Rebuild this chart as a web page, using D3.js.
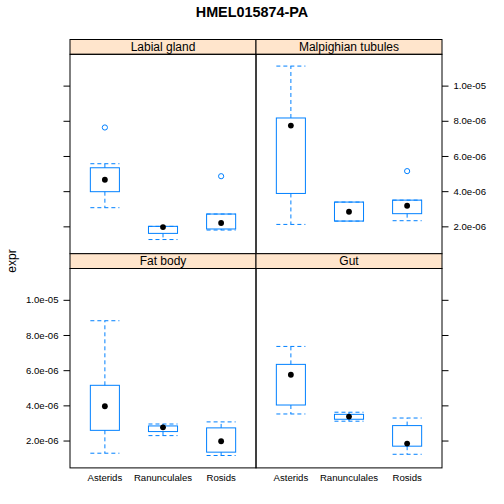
<!DOCTYPE html>
<html>
<head>
<meta charset="utf-8">
<script src="https://cdn.jsdelivr.net/npm/d3@7"></script>
<style>
html,body{margin:0;padding:0;background:#fff;}
svg{display:block;font-family:"Liberation Sans",Arial,sans-serif;}
</style>
</head>
<body>
<svg id="chart" width="504" height="504"></svg>
<script>
const title = "HMEL015874-PA";
const yLabel = "expr";
const categories = ["Asterids", "Ranunculales", "Rosids"];
const panelNames = ["Labial gland", "Malpighian tubules", "Fat body", "Gut"];
// per panel, per category: [lower whisker, Q1, median, Q3, upper whisker]
const labialStats = [[3.06e-6, 3.97e-6, 4.65e-6, 5.33e-6, 5.56e-6],
                     [1.25e-6, 1.60e-6, 1.96e-6, 2.00e-6, 2.00e-6],
                     [1.79e-6, 1.85e-6, 2.19e-6, 2.70e-6, 2.70e-6]];
const malpighianStats = [[2.11e-6, 3.87e-6, 7.73e-6, 8.16e-6, 11.11e-6],
                         [2.30e-6, 2.30e-6, 2.83e-6, 3.38e-6, 3.38e-6],
                         [2.32e-6, 2.72e-6, 3.17e-6, 3.49e-6, 3.49e-6]];
const fatBodyStats = [[1.28e-6, 2.58e-6, 3.95e-6, 5.14e-6, 8.81e-6],
                      [2.28e-6, 2.51e-6, 2.75e-6, 2.83e-6, 2.94e-6],
                      [1.15e-6, 1.34e-6, 1.96e-6, 2.72e-6, 3.06e-6]];
const gutStats = [[3.51e-6, 4.02e-6, 5.74e-6, 6.33e-6, 7.35e-6],
                  [3.10e-6, 3.21e-6, 3.36e-6, 3.49e-6, 3.61e-6],
                  [1.22e-6, 1.68e-6, 1.83e-6, 2.85e-6, 3.28e-6]];
// outliers per panel, per category
const labialOutliers = [[7.62e-6], [], [4.85e-6]];
const malpighianOutliers = [[], [], [5.14e-6]];
const fatBodyOutliers = [[], [], []];
const gutOutliers = [[], [], []];
const yTicks = [2e-6, 4e-6, 6e-6, 8e-6, 1e-5];
const yTickLabels = ["2.0e-06", "4.0e-06", "6.0e-06", "8.0e-06", "1.0e-05"];
const yDomain = [0.445e-6, 11.78e-6];

const panelStats = [labialStats, malpighianStats, fatBodyStats, gutStats];
const panelOutliers = [labialOutliers, malpighianOutliers, fatBodyOutliers, gutOutliers];

const svg = d3.select("#chart");
const blue = "#0080ff";
const X0 = 70, PW = 186, TOP = 39.5, SH = 14.8, PH = 199.4;

svg.append("text").attr("x", 252).attr("y", 17).attr("text-anchor", "middle")
  .attr("font-size", 14.4).attr("font-weight", "bold").text(title);

svg.append("text").attr("transform", "translate(15.5,261) rotate(-90)")
  .attr("text-anchor", "middle").attr("font-size", 12).text(yLabel);

panelNames.forEach((name, i) => {
  const col = i % 2, row = Math.floor(i / 2);
  const px = X0 + col * PW;
  const sy = TOP + row * (SH + PH);
  const py = sy + SH;
  const g = svg.append("g");
  const x = d3.scalePoint().domain(categories).range([px, px + PW]).padding(0.6);
  const y = d3.scaleLinear().domain(yDomain).range([py + PH, py]);
  const bw = x.step() * 0.5;

  // strip
  g.append("rect").attr("x", px).attr("y", sy).attr("width", PW).attr("height", SH)
    .attr("fill", "#ffe5cc").attr("stroke", "#000").attr("stroke-width", 1);
  g.append("text").attr("x", px + PW / 2).attr("y", sy + SH / 2 + 4.2)
    .attr("text-anchor", "middle").attr("font-size", 12).text(name);

  // boxes
  categories.forEach((c, k) => {
    const s = panelStats[i][k];
    const cx = x(c);
    const dash = "4,3";
    g.append("line").attr("x1", cx).attr("x2", cx).attr("y1", y(s[3])).attr("y2", y(s[4]))
      .attr("stroke", blue).attr("stroke-dasharray", dash);
    g.append("line").attr("x1", cx).attr("x2", cx).attr("y1", y(s[1])).attr("y2", y(s[0]))
      .attr("stroke", blue).attr("stroke-dasharray", dash);
    [s[0], s[4]].forEach(v => {
      g.append("line").attr("x1", cx - bw / 2).attr("x2", cx + bw / 2).attr("y1", y(v)).attr("y2", y(v))
        .attr("stroke", blue).attr("stroke-dasharray", dash);
    });
    g.append("rect").attr("x", cx - bw / 2).attr("y", y(s[3])).attr("width", bw)
      .attr("height", y(s[1]) - y(s[3])).attr("fill", "none").attr("stroke", blue);
    panelOutliers[i][k].forEach(v => {
      g.append("circle").attr("cx", cx).attr("cy", y(v)).attr("r", 2.6)
        .attr("fill", "none").attr("stroke", blue);
    });
    g.append("circle").attr("cx", cx).attr("cy", y(s[2])).attr("r", 2.9).attr("fill", "#000");
  });

  // panel border
  g.append("rect").attr("x", px).attr("y", py).attr("width", PW).attr("height", PH)
    .attr("fill", "none").attr("stroke", "#000").attr("stroke-width", 1);

  // y axis ticks
  if (col === 0) {
    const ax = d3.axisLeft(y).tickValues(yTicks).tickSizeOuter(0).tickSizeInner(6.5).tickPadding(5)
      .tickFormat((d, j) => row === 1 ? yTickLabels[j] : "");
    const ag = g.append("g").attr("transform", `translate(${px},0)`).call(ax);
    ag.select(".domain").remove();
    ag.selectAll("text").attr("font-size", 9.6).attr("font-family", "Liberation Sans, Arial, sans-serif").attr("fill", "#000");
  } else {
    const ax = d3.axisRight(y).tickValues(yTicks).tickSizeOuter(0).tickSizeInner(6.5).tickPadding(5)
      .tickFormat((d, j) => row === 0 ? yTickLabels[j] : "");
    const ag = g.append("g").attr("transform", `translate(${px + PW},0)`).call(ax);
    ag.select(".domain").remove();
    ag.selectAll("text").attr("font-size", 9.6).attr("font-family", "Liberation Sans, Arial, sans-serif").attr("fill", "#000");
  }

  // x labels on bottom row
  if (row === 1) {
    categories.forEach(c => {
      g.append("text").attr("x", x(c)).attr("y", py + PH + 13.5).attr("text-anchor", "middle")
        .attr("font-size", 9.6).text(c);
    });
  }
});
</script>
</body>
</html>
